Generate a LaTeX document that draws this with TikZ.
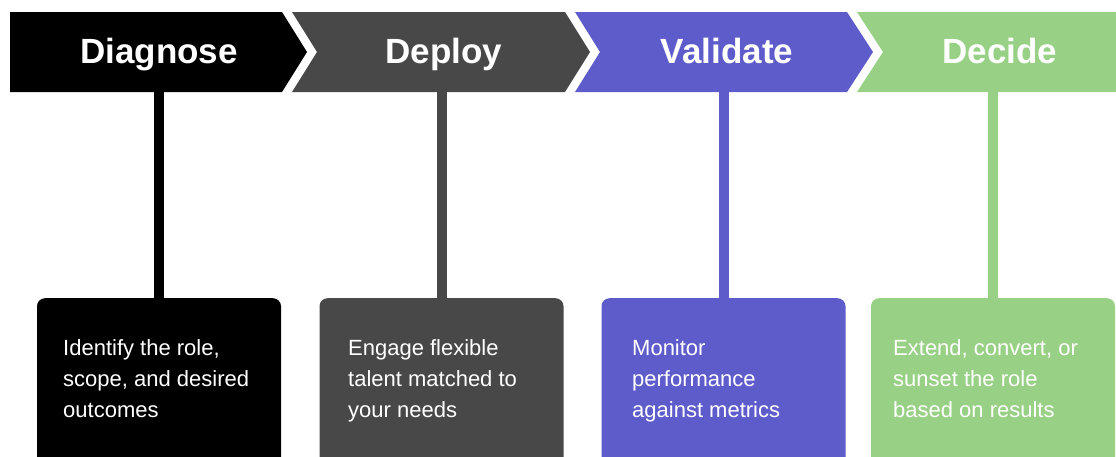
\documentclass[tikz,border=0pt]{standalone}
\usepackage{fontspec}
\setmainfont{Liberation Sans}
\usetikzlibrary{positioning}

\definecolor{diagnosecol}{RGB}{0,0,0}
\definecolor{deploycol}{RGB}{72,72,72}
\definecolor{validatecol}{RGB}{94,91,203}
\definecolor{decidecol}{RGB}{152,209,133}

\tikzset{
	phase/.style={anchor=base, text=white, font=\bfseries\fontsize{35}{40}\selectfont},
	card/.style={anchor=north, rounded corners=8pt, minimum width=244pt, minimum height=180pt, inner sep=0pt},
	cardtext/.style={anchor=base west, text=white, align=left, inner sep=0pt, font=\fontsize{22}{31}\selectfont},
	stem/.style={line width=10pt},
}

\begin{document}
\begin{tikzpicture}[x=1pt,y=-1pt]
		\useasboundingbox (0,0) rectangle (1116,456);
		\clip (0,0) rectangle (1116,456);
		
		% banner of chevrons
		\fill[diagnosecol] (10,12)--(282,12)--(307,52)--(282,92)--(10,92)--cycle;
		\fill[deploycol] (292,12)--(565,12)--(590,52)--(565,92)--(292,92)--(317,52)--cycle;
		\fill[validatecol] (575,12)--(847,12)--(873,52)--(847,92)--(575,92)--(600,52)--cycle;
		\fill[decidecol] (857,12)--(1116,12)--(1116,92)--(857,92)--(883,52)--cycle;
		
		\node[phase] (diagnose) at (159,63) {Diagnose};
		\node[phase] (deploy) at (444,63) {Deploy};
		\node[phase] (validate) at (727,63) {Validate};
		\node[phase] (decide) at (1000,63) {Decide};
		
		% cards
		\node[card, fill=diagnosecol] (diagnose-card) at (159,298) {};
		\node[card, fill=deploycol] (deploy-card) at (441.5,298) {};
		\node[card, fill=validatecol] (validate-card) at (723.5,298) {};
		\node[card, fill=decidecol] (decide-card) at (993,298) {};
		
		\coordinate (diagnose-foot) at (diagnose-card.north |- 0,90);
		\coordinate (deploy-foot) at (deploy-card.north |- 0,90);
		\coordinate (validate-foot) at (validate-card.north |- 0,90);
		\coordinate (decide-foot) at (decide-card.north |- 0,90);
		
		\draw[stem, diagnosecol] (diagnose-foot)--([yshift=-1pt]diagnose-card.north);
		\draw[stem, deploycol] (deploy-foot)--([yshift=-1pt]deploy-card.north);
		\draw[stem, validatecol] (validate-foot)--([yshift=-1pt]validate-card.north);
		\draw[stem, decidecol] (decide-foot)--([yshift=-1pt]decide-card.north);
		
		% text sits on the baseline of its last line
		\node[cardtext] (diagnose-text) at (63,417) {Identify the role,\\scope, and desired\\outcomes};
		\node[cardtext] (deploy-text) at (348,417) {Engage flexible\\talent matched to\\your needs};
		\node[cardtext] (validate-text) at (632,417) {Monitor\\performance\\against metrics};
		\node[cardtext] (decide-text) at (893,417) {Extend, convert, or\\sunset the role\\based on results};
	\end{tikzpicture}
\end{document}
